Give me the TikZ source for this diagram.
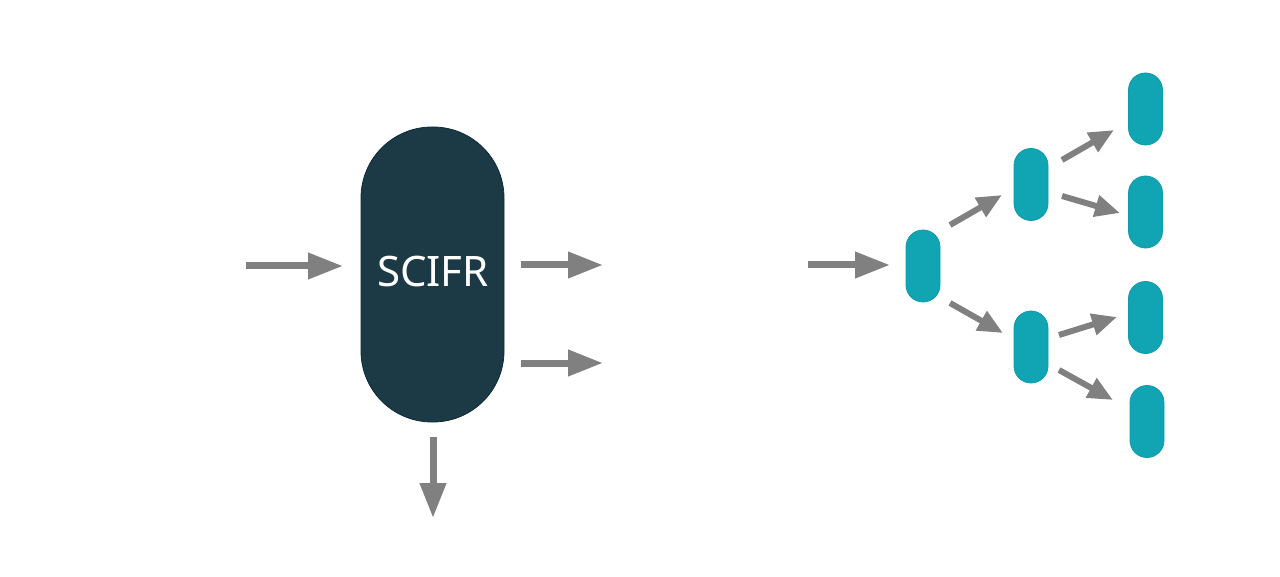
\documentclass[tikz,border=0pt]{standalone}
\usepackage{fontspec}
\newfontfamily\nsans{Noto Sans}
\usetikzlibrary{arrows.meta}
\definecolor{scifrfill}{HTML}{1B3A45}
\definecolor{scifredge}{HTML}{0F2A33}
\definecolor{tealfill}{HTML}{11A5B3}
\definecolor{tealedge}{HTML}{0E9AA8}
\definecolor{arrowgray}{HTML}{808080}
\tikzset{
  bigpill/.style={draw=scifredge, line width=0.8pt, fill=scifrfill, rounded corners=71pt,
    minimum width=143pt, minimum height=295pt, inner sep=0pt, text=white,
    font=\nsans\fontsize{42}{50}\selectfont},
  smallpill/.style={draw=tealedge, line width=0.8pt, fill=tealfill, rounded corners=17pt,
    minimum width=34pt, minimum height=72pt, inner sep=0pt},
  bigarrow/.style={draw=arrowgray, line width=7pt, -{Triangle[length=35pt,width=25pt]}},
  smallarrow/.style={draw=arrowgray, line width=6pt, -{Triangle[length=25pt,width=21pt]}}
}
\begin{document}
\begin{tikzpicture}[x=1pt,y=-1pt]
\useasboundingbox (0,0) rectangle (1280,577);
% left part
\node[bigpill] (scifr) at (432.5,274.5) {};
\node[text=white, font=\nsans\fontsize{42}{50}\selectfont] (label) at (433,272) {SCIFR};
\coordinate (in1s) at (246,266);
\coordinate (in1e) at (343,266);
\coordinate (o1s) at (521,265);
\coordinate (o1e) at (603,265);
\coordinate (o2s) at (521,363);
\coordinate (o2e) at (603,363);
\coordinate (dns) at (433,437);
\coordinate (dne) at (433,518);
\draw[bigarrow] (in1s) -- (in1e);
\draw[bigarrow] (o1s) -- (o1e);
\draw[bigarrow] (o2s) -- (o2e);
\draw[bigarrow] (dns) -- (dne);
% right part
\node[smallpill] (A) at (923,266) {};
\node[smallpill] (B) at (1031,184.5) {};
\node[smallpill] (C) at (1031,347) {};
\node[smallpill] (D) at (1145.5,109) {};
\node[smallpill] (E) at (1145.5,212) {};
\node[smallpill] (F) at (1145.5,317.5) {};
\node[smallpill] (G) at (1147,421.5) {};
\coordinate (in2s) at (808,265);
\coordinate (in2e) at (890,265);
\draw[bigarrow] (in2s) -- (in2e);
\coordinate (ab1) at (950,225); \coordinate (ab2) at (1002,195);
\coordinate (ac1) at (950,303); \coordinate (ac2) at (1003,333);
\coordinate (bd1) at (1062,160); \coordinate (bd2) at (1114,130);
\coordinate (be1) at (1062,196); \coordinate (be2) at (1120,213);
\coordinate (cf1) at (1059,335); \coordinate (cf2) at (1117,317);
\coordinate (cg1) at (1059,370); \coordinate (cg2) at (1113,400);
\draw[smallarrow] (ab1) -- (ab2);
\draw[smallarrow] (ac1) -- (ac2);
\draw[smallarrow] (bd1) -- (bd2);
\draw[smallarrow] (be1) -- (be2);
\draw[smallarrow] (cf1) -- (cf2);
\draw[smallarrow] (cg1) -- (cg2);
\end{tikzpicture}
\end{document}
